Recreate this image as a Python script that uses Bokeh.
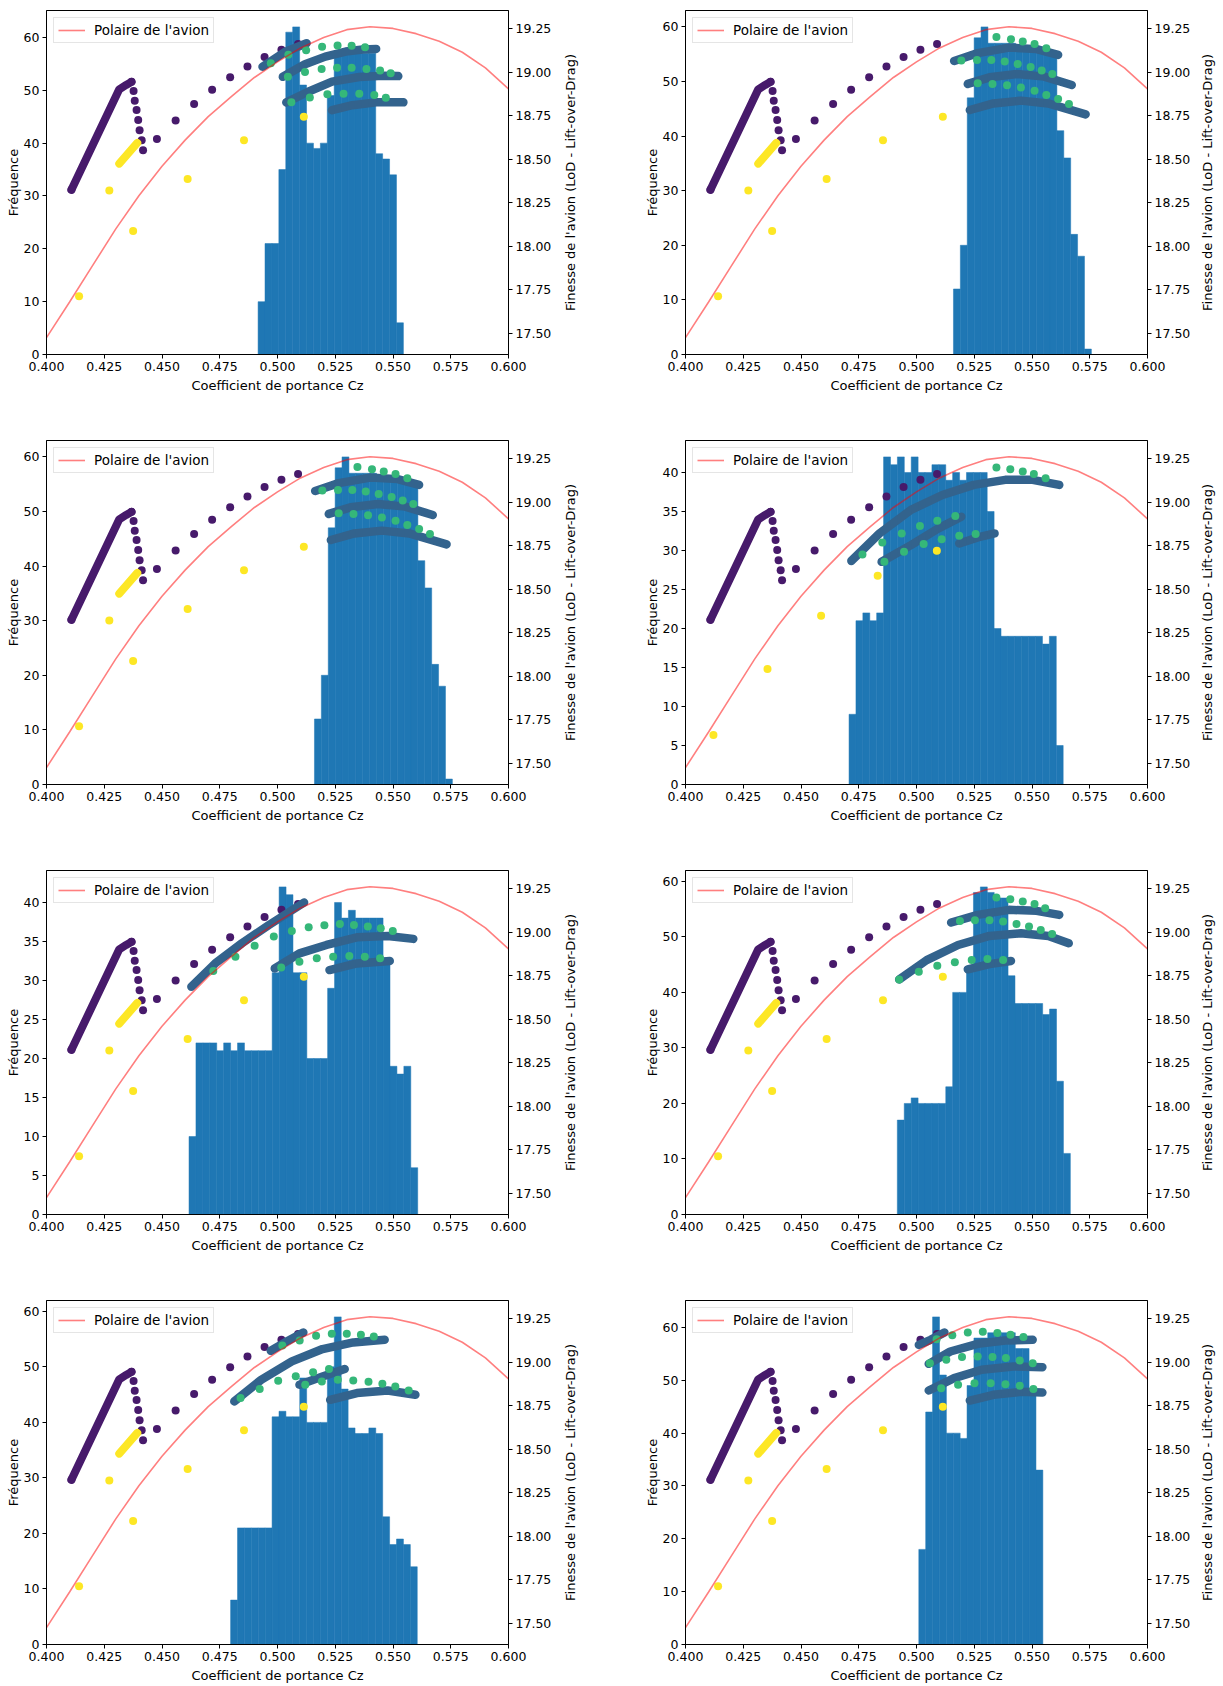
import math
import numpy as np
from bokeh.plotting import figure
from bokeh.models import (Range1d, LinearAxis, FixedTicker, NumeralTickFormatter,
                          Legend, LegendItem)
from bokeh.core.properties import value
from bokeh.layouts import column, row
from bokeh.embed import file_html
from bokeh.resources import INLINE

FONT = "DejaVu Sans"
FS_TICK = "12.5px"
FS_LABEL = "13px"
FS_LEGEND = "13.5px"
HIST_COLOR = "#1f77b4"
PURPLE = "#471a6b"
BLUE = "#33638d"
GREEN = "#35b779"
YELLOW = "#fde725"
DOT = 8

X_TICKS = [0.400, 0.425, 0.450, 0.475, 0.500, 0.525, 0.550, 0.575, 0.600]
LOD_TICKS = [17.50, 17.75, 18.00, 18.25, 18.50, 18.75, 19.00, 19.25]
LOD_LO, LOD_HI = 17.378, 19.355
RIGHT_LABEL = "Finesse de l'avion (LoD - Lift-over-Drag)"

# --- polar of the aircraft (shared) ---
POLAR_CZ = [0.40, 0.41, 0.42, 0.43, 0.44, 0.45, 0.46, 0.47, 0.48, 0.49, 0.50,
            0.51, 0.52, 0.53, 0.54, 0.55, 0.56, 0.57, 0.58, 0.59, 0.60]
POLAR_LOD = [17.475, 17.68, 17.89, 18.10, 18.29, 18.46, 18.61, 18.745, 18.86, 18.97, 19.06,
             19.14, 19.20, 19.245, 19.262, 19.252, 19.222, 19.178, 19.115, 19.025, 18.905]

# --- purple points (shared) ---
PURPLE_CHAIN_CZ = [0.4108, 0.4315, 0.4345, 0.4368]
PURPLE_CHAIN_LOD = [18.325, 18.902, 18.927, 18.945]
PURPLE_CZ = [0.4108, 0.4368, 0.4377, 0.4382, 0.4390, 0.4397, 0.4403, 0.4412, 0.4418,
             0.4478, 0.4559, 0.4639, 0.4717, 0.4795, 0.4870, 0.4944, 0.5017, 0.5089]
PURPLE_LOD = [18.325, 18.945, 18.892, 18.837, 18.783, 18.725, 18.667, 18.610, 18.552,
              18.617, 18.723, 18.817, 18.900, 18.971, 19.033, 19.088, 19.129, 19.163]

# --- yellow points ---
YELLOW_CHAIN_CZ = [0.4315, 0.4393]
YELLOW_CHAIN_LOD = [18.475, 18.594]
YELLOW_CZ = [0.4141, 0.4272, 0.4375, 0.4611, 0.4855, 0.5114]
YELLOW_LOD = [17.713, 18.321, 18.088, 18.387, 18.610, 18.744]
YELLOW4_CZ = [0.4121, 0.4355, 0.4587, 0.4832, 0.5088]
YELLOW4_LOD = [17.663, 18.042, 18.348, 18.577, 18.721]

# --- panel 1 ---
HIST1_RANGE = (0.4916, 0.5545)
HIST1_COUNTS = [10, 21, 21, 35, 61, 62, 51, 40, 39, 40, 49, 57, 57, 57, 58, 57, 57, 38, 37, 34, 6]
BLUE1_CZ = [[0.4935, 0.5030, 0.5126],
            [0.5023, 0.5119, 0.5207, 0.5295, 0.5369, 0.5427],
            [0.5038, 0.5133, 0.5236, 0.5354, 0.5457, 0.5523],
            [0.5236, 0.5324, 0.5427, 0.5545]]
BLUE1_LOD = [[19.032, 19.115, 19.167],
             [18.974, 19.046, 19.090, 19.119, 19.131, 19.134],
             [18.827, 18.888, 18.946, 18.973, 18.980, 18.978],
             [18.782, 18.811, 18.827, 18.827]]
GREEN1_CZ = [0.4971, 0.5047, 0.5124, 0.5193, 0.5260, 0.5321, 0.5379,
             0.5045, 0.5119, 0.5191, 0.5258, 0.5321, 0.5385, 0.5444, 0.5490,
             0.5060, 0.5140, 0.5216, 0.5286, 0.5354, 0.5419, 0.5469]
GREEN1_LOD = [19.052, 19.100, 19.127, 19.146, 19.154, 19.152, 19.144,
              18.974, 19.001, 19.019, 19.026, 19.026, 19.019, 19.010, 18.994,
              18.827, 18.855, 18.873, 18.877, 18.877, 18.869, 18.854]

# --- panel 2 (panel 3 identical) ---
HIST2_RANGE = (0.5160, 0.5757)
HIST2_COUNTS = [12, 20, 47, 58, 60, 57, 57, 57, 57, 56, 56, 56, 56, 55, 55, 41, 36, 22, 18, 1]
BLUE2_CZ = [[0.5163, 0.5265, 0.5401, 0.5520, 0.5613],
            [0.5222, 0.5316, 0.5435, 0.5553, 0.5672],
            [0.5231, 0.5333, 0.5452, 0.5570, 0.5732]]
BLUE2_LOD = [[19.065, 19.110, 19.142, 19.133, 19.100],
             [18.933, 18.971, 18.990, 18.975, 18.927],
             [18.783, 18.821, 18.837, 18.821, 18.758]]
GREEN2_CZ = [0.5346, 0.5409, 0.5460, 0.5511, 0.5562,
             0.5194, 0.5262, 0.5324, 0.5382, 0.5438, 0.5494, 0.5542, 0.5588,
             0.5265, 0.5329, 0.5392, 0.5452, 0.5511, 0.5562, 0.5613, 0.5660]
GREEN2_LOD = [19.202, 19.190, 19.177, 19.162, 19.138,
              19.067, 19.071, 19.071, 19.062, 19.048, 19.031, 19.010, 18.990,
              18.937, 18.933, 18.925, 18.912, 18.894, 18.869, 18.846, 18.817]
HIST3_RANGE = HIST2_RANGE
HIST3_COUNTS = HIST2_COUNTS
BLUE3_CZ, BLUE3_LOD = BLUE2_CZ, BLUE2_LOD
GREEN3_CZ, GREEN3_LOD = GREEN2_CZ, GREEN2_LOD

# --- panel 4 ---
HIST4_RANGE = (0.4708, 0.5635)
HIST4_COUNTS = [9, 21, 22, 21, 22, 42, 41, 42, 40, 42, 40, 40, 41, 41, 39, 40, 39, 40, 40, 40,
                35, 20, 19, 19, 19, 19, 19, 19, 18, 19, 5]
BLUE4_CZ = [[0.4718, 0.4840, 0.4976, 0.5112, 0.5248, 0.5384, 0.5503, 0.5618],
            [0.4849, 0.4976, 0.5095, 0.5194],
            [0.5185, 0.5265, 0.5338]]
BLUE4_LOD = [[18.663, 18.821, 18.956, 19.042, 19.100, 19.129, 19.129, 19.100],
             [18.658, 18.754, 18.850, 18.917],
             [18.763, 18.798, 18.821]]
GREEN4_CZ = [0.5346, 0.5406, 0.5460, 0.5508, 0.5559,
             0.4766, 0.4852, 0.4936, 0.5015, 0.5090, 0.5168,
             0.4861, 0.4946, 0.5031, 0.5109, 0.5185, 0.5256]
GREEN4_LOD = [19.200, 19.190, 19.177, 19.163, 19.138,
              18.700, 18.769, 18.821, 18.863, 18.894, 18.921,
              18.658, 18.715, 18.760, 18.788, 18.808, 18.817]

# --- panel 5 ---
HIST5_RANGE = (0.4617, 0.5607)
HIST5_COUNTS = [10, 22, 22, 22, 21, 22, 21, 22, 21, 21, 21, 21, 31, 42, 41, 31, 31, 20, 20, 20,
                29, 40, 38, 39, 38, 38, 38, 38, 32, 19, 18, 19, 6]
BLUE5_CZ = [[0.4627, 0.4730, 0.4846, 0.4963, 0.5115],
            [0.4988, 0.5095, 0.5212, 0.5344, 0.5477, 0.5588],
            [0.5225, 0.5344, 0.5486]]
BLUE5_LOD = [[18.687, 18.821, 18.937, 19.042, 19.171],
             [18.792, 18.879, 18.927, 18.971, 18.979, 18.962],
             [18.783, 18.821, 18.835]]
GREEN5_CZ = [0.4722, 0.4818, 0.4901, 0.4984, 0.5062, 0.5135, 0.5203, 0.5270, 0.5331, 0.5391, 0.5447, 0.5499,
             0.5016, 0.5095, 0.5170, 0.5241, 0.5311, 0.5378, 0.5444]
GREEN5_LOD = [18.777, 18.860, 18.923, 18.975, 19.008, 19.029, 19.040, 19.048, 19.042, 19.033, 19.023, 19.008,
              18.798, 18.831, 18.850, 18.860, 18.863, 18.860, 18.850]

# --- panel 6 ---
HIST6_RANGE = (0.4917, 0.5666)
HIST6_COUNTS = [17, 20, 21, 20, 20, 20, 20, 23, 40, 40, 44, 58, 59, 58, 57, 57, 43, 38, 38, 38,
                38, 36, 37, 24, 11]
BLUE6_CZ = [[0.5150, 0.5265, 0.5401, 0.5520, 0.5618],
            [0.4925, 0.5044, 0.5180, 0.5316, 0.5452, 0.5571, 0.5659],
            [0.5222, 0.5316, 0.5409]]
BLUE6_LOD = [[19.056, 19.100, 19.129, 19.123, 19.100],
             [18.729, 18.840, 18.927, 18.979, 18.994, 18.979, 18.937],
             [18.787, 18.817, 18.835]]
GREEN6_CZ = [0.5346, 0.5406, 0.5460, 0.5511, 0.5557,
             0.5188, 0.5253, 0.5316, 0.5375, 0.5433, 0.5487, 0.5538, 0.5587,
             0.4925, 0.5010, 0.5090, 0.5166, 0.5239, 0.5307, 0.5375]
GREEN6_LOD = [19.200, 19.190, 19.177, 19.162, 19.138,
              19.065, 19.069, 19.069, 19.062, 19.048, 19.033, 19.013, 18.990,
              18.729, 18.773, 18.808, 18.827, 18.840, 18.846, 18.840]

# --- panel 7 ---
HIST7_RANGE = (0.4797, 0.5605)
HIST7_COUNTS = [8, 21, 21, 21, 21, 21, 41, 42, 41, 41, 48, 40, 40, 40, 50, 59, 46, 39, 38, 38,
                39, 38, 23, 18, 19, 18, 14]
BLUE7_CZ = [[0.4971, 0.5046, 0.5112],
            [0.4813, 0.4929, 0.5062, 0.5195, 0.5328, 0.5464],
            [0.5095, 0.5195, 0.5291],
            [0.5228, 0.5344, 0.5477, 0.5597]]
BLUE7_LOD = [[19.066, 19.124, 19.171],
             [18.775, 18.899, 19.005, 19.076, 19.114, 19.129],
             [18.871, 18.918, 18.961],
             [18.784, 18.823, 18.838, 18.813]]
GREEN7_CZ = [0.5021, 0.5096, 0.5167, 0.5235, 0.5300, 0.5361, 0.5417,
             0.4840, 0.4923, 0.5003, 0.5079, 0.5154, 0.5223,
             0.5120, 0.5192, 0.5261, 0.5328, 0.5394, 0.5454, 0.5510, 0.5568]
GREEN7_LOD = [19.097, 19.125, 19.152, 19.164, 19.164, 19.158, 19.148,
              18.794, 18.847, 18.894, 18.920, 18.943, 18.961,
              18.871, 18.890, 18.899, 18.895, 18.888, 18.876, 18.861, 18.838]

# --- panel 8 ---
HIST8_RANGE = (0.5010, 0.5547)
HIST8_COUNTS = [18, 44, 62, 51, 40, 40, 39, 49, 58, 58, 59, 59, 59, 59, 56, 56, 48, 33]
BLUE8_CZ = [[0.5010, 0.5061, 0.5121],
            [0.5053, 0.5146, 0.5265, 0.5384, 0.5503],
            [0.5053, 0.5163, 0.5282, 0.5418, 0.5545],
            [0.5231, 0.5333, 0.5452, 0.5545]]
BLUE8_LOD = [[19.100, 19.129, 19.171],
             [18.991, 19.062, 19.106, 19.125, 19.129],
             [18.838, 18.909, 18.957, 18.976, 18.972],
             [18.780, 18.813, 18.830, 18.826]]
GREEN8_CZ = [0.5087, 0.5155, 0.5222, 0.5287, 0.5350, 0.5407, 0.5463,
             0.5058, 0.5129, 0.5197, 0.5265, 0.5329, 0.5387, 0.5447, 0.5503,
             0.5107, 0.5180, 0.5251, 0.5321, 0.5385, 0.5447, 0.5506]
GREEN8_LOD = [19.133, 19.156, 19.171, 19.175, 19.168, 19.158, 19.145,
              18.995, 19.014, 19.030, 19.033, 19.030, 19.024, 19.010, 18.995,
              18.851, 18.871, 18.880, 18.880, 18.874, 18.865, 18.846]


def style_axis(ax, label_standoff=4):
    ax.axis_line_color = "black"
    ax.major_tick_line_color = "black"
    ax.major_tick_out = 4
    ax.major_tick_in = 0
    ax.minor_tick_out = 0
    ax.minor_tick_in = 0
    ax.major_label_text_font = FONT
    ax.major_label_text_font_size = FS_TICK
    ax.major_label_text_color = "black"
    ax.axis_label_text_font = FONT
    ax.axis_label_text_font_size = FS_LABEL
    ax.axis_label_text_font_style = "normal"
    ax.axis_label_text_color = "black"
    ax.major_label_standoff = 3
    ax.axis_label_standoff = label_standoff


FRAME_W = 462
LABEL_W = 22
TOP = 10


def row_heights(last):
    return (396, 42) if last else (430, 76)


def panel(hist_range, counts, blue_cz, blue_lod, green_cz, green_lod,
          yel_cz, yel_lod, yel_chain, col, last):
    width = 559 if col == 0 else 615
    mbl = 46 if col == 0 else 104
    mbr = width - mbl - FRAME_W
    height, mbb = row_heights(last)
    ytop = max(counts) * 1.05
    p = figure(width=width, height=height, x_range=Range1d(0.4, 0.6),
               y_range=Range1d(0, ytop), output_backend="svg",
               toolbar_location=None, tools="",
               min_border_left=mbl, min_border_right=mbr,
               min_border_top=TOP, min_border_bottom=mbb)
    p.extra_y_ranges = {"lod": Range1d(LOD_LO, LOD_HI)}
    p.xgrid.visible = False
    p.ygrid.visible = False
    p.outline_line_color = "black"
    p.outline_line_width = 1
    p.background_fill_color = "white"

    style_axis(p.xaxis[0])
    p.xaxis.ticker = FixedTicker(ticks=X_TICKS)
    p.xaxis.formatter = NumeralTickFormatter(format="0.000")
    p.xaxis.axis_label = "Coefficient de portance Cz"

    style_axis(p.yaxis[0], label_standoff=0)
    step = 10 if ytop > 50 else 5
    p.yaxis.ticker = FixedTicker(ticks=list(range(0, int(ytop) + 1, step)))
    p.yaxis.formatter = NumeralTickFormatter(format="0")
    p.yaxis.axis_label = "Fréquence"

    rax = LinearAxis(y_range_name="lod")
    style_axis(rax)
    rax.ticker = FixedTicker(ticks=LOD_TICKS)
    rax.formatter = NumeralTickFormatter(format="0.00")
    p.add_layout(rax, "right")

    edges = np.linspace(hist_range[0], hist_range[1], len(counts) + 1)
    p.quad(left=edges[:-1], right=edges[1:], bottom=0, top=counts,
           fill_color=HIST_COLOR, line_color=HIST_COLOR, line_width=0.5)

    # purple
    p.line(PURPLE_CHAIN_CZ, PURPLE_CHAIN_LOD, line_width=DOT, line_color=PURPLE,
           line_cap="round", line_join="round", y_range_name="lod")
    p.scatter(PURPLE_CZ, PURPLE_LOD, size=DOT, fill_color=PURPLE, line_color=None,
              y_range_name="lod")
    # blue curves
    p.multi_line(xs=blue_cz, ys=blue_lod, line_width=8.5, line_color=BLUE,
                 line_cap="round", line_join="round", y_range_name="lod")
    # green
    p.scatter(green_cz, green_lod, size=DOT, fill_color=GREEN, line_color=None,
              y_range_name="lod")
    # yellow
    if yel_chain:
        p.line(YELLOW_CHAIN_CZ, YELLOW_CHAIN_LOD, line_width=DOT, line_color=YELLOW,
               line_cap="round", y_range_name="lod")
    p.scatter(yel_cz, yel_lod, size=DOT, fill_color=YELLOW, line_color=None,
              y_range_name="lod")
    # polar
    red = p.line(POLAR_CZ, POLAR_LOD, line_color="red", line_alpha=0.5, line_width=1.6,
                 y_range_name="lod")

    legend = Legend(items=[LegendItem(label="Polaire de l'avion", renderers=[red])],
                    location="top_left", margin=7, padding=4, spacing=0,
                    label_standoff=9, glyph_width=27, glyph_height=16, label_height=16,
                    label_text_font=FONT, label_text_font_size=FS_LEGEND,
                    label_text_color="black",
                    border_line_color="#cccccc", border_line_width=1,
                    background_fill_alpha=0.8)
    p.add_layout(legend)
    return p


def right_title(last):
    """Narrow strip carrying the right-axis title, reading bottom-to-top."""
    height, mbb = row_heights(last)
    t = figure(width=LABEL_W, height=height, x_range=Range1d(0, 1), y_range=Range1d(0, 1),
               output_backend="svg", toolbar_location=None, tools="",
               x_axis_type=None, y_axis_type=None,
               min_border_left=0, min_border_right=0,
               min_border_top=TOP, min_border_bottom=mbb)
    t.outline_line_color = None
    t.xgrid.visible = False
    t.ygrid.visible = False
    t.text(x=[0.5], y=[0.5], text=[RIGHT_LABEL], angle=math.pi / 2,
           text_align="center", text_baseline="middle",
           text_font=value(FONT), text_font_size=value(FS_LABEL), text_color="black")
    return t


p1 = panel(HIST1_RANGE, HIST1_COUNTS, BLUE1_CZ, BLUE1_LOD, GREEN1_CZ, GREEN1_LOD,
           YELLOW_CZ, YELLOW_LOD, True, 0, False)
p2 = panel(HIST2_RANGE, HIST2_COUNTS, BLUE2_CZ, BLUE2_LOD, GREEN2_CZ, GREEN2_LOD,
           YELLOW_CZ, YELLOW_LOD, True, 1, False)
p3 = panel(HIST3_RANGE, HIST3_COUNTS, BLUE3_CZ, BLUE3_LOD, GREEN3_CZ, GREEN3_LOD,
           YELLOW_CZ, YELLOW_LOD, True, 0, False)
p4 = panel(HIST4_RANGE, HIST4_COUNTS, BLUE4_CZ, BLUE4_LOD, GREEN4_CZ, GREEN4_LOD,
           YELLOW4_CZ, YELLOW4_LOD, False, 1, False)
p5 = panel(HIST5_RANGE, HIST5_COUNTS, BLUE5_CZ, BLUE5_LOD, GREEN5_CZ, GREEN5_LOD,
           YELLOW_CZ, YELLOW_LOD, True, 0, False)
p6 = panel(HIST6_RANGE, HIST6_COUNTS, BLUE6_CZ, BLUE6_LOD, GREEN6_CZ, GREEN6_LOD,
           YELLOW_CZ, YELLOW_LOD, True, 1, False)
p7 = panel(HIST7_RANGE, HIST7_COUNTS, BLUE7_CZ, BLUE7_LOD, GREEN7_CZ, GREEN7_LOD,
           YELLOW_CZ, YELLOW_LOD, True, 0, True)
p8 = panel(HIST8_RANGE, HIST8_COUNTS, BLUE8_CZ, BLUE8_LOD, GREEN8_CZ, GREEN8_LOD,
           YELLOW_CZ, YELLOW_LOD, True, 1, True)

rows = []
for left, right, last in [(p1, p2, False), (p3, p4, False), (p5, p6, False), (p7, p8, True)]:
    rows.append(row(left, right_title(last), right, right_title(last)))
layout = column(*rows)

open("out.html", "w").write(file_html(layout, INLINE))
